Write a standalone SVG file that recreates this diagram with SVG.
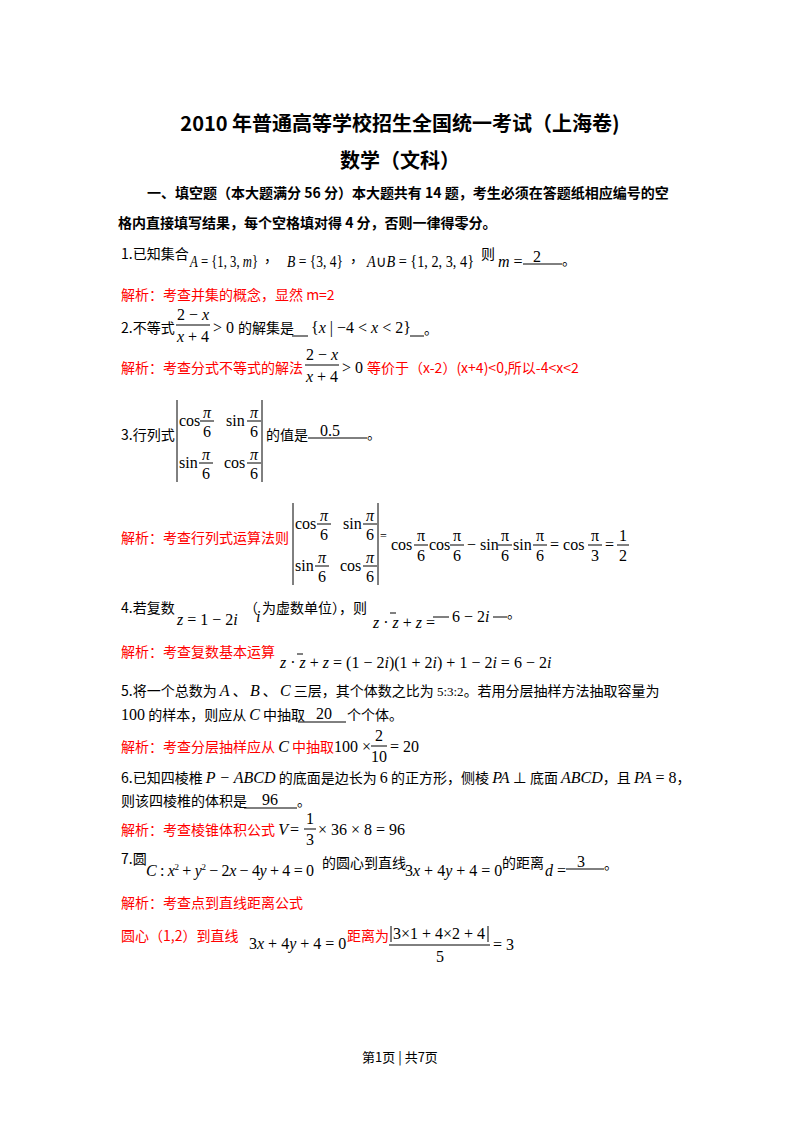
<svg xmlns="http://www.w3.org/2000/svg" width="800" height="1132" viewBox="0 0 800 1132">
<style>
.t{font-family:"Liberation Serif","Noto Sans CJK SC",serif;font-size:14px;fill:#000}
.c{font-family:"Noto Sans CJK SC",sans-serif;font-size:14px;fill:#000}
.r{fill:#f00}
.m{font-family:"Liberation Serif",serif;font-size:16px;fill:#000}
.i{font-style:italic}
.b{font-weight:bold}
line{stroke:#000;stroke-width:1}
</style>
<rect width="800" height="1132" fill="#fff"/>
<text x="400" y="131" text-anchor="middle" class="c b" style="font-size:20px">2010 年普通高等学校招生全国统一考试（上海卷)</text>
<text x="400" y="168" text-anchor="middle" class="c b" style="font-size:20px">数学（文科）</text>
<text x="147" y="198" class="c b">一、填空题（本大题满分 56 分）本大题共有 14 题，考生必须在答题纸相应编号的空</text>
<text x="118" y="228" class="c b">格内直接填写结果，每个空格填对得 4 分，否则一律得零分。</text>

<text x="121" y="259" class="c">1.已知集合</text>
<text x="190" y="267" class="m" textLength="68" lengthAdjust="spacingAndGlyphs"><tspan class="i">A</tspan> = {1, 3, <tspan class="i">m</tspan>}</text>
<text x="264" y="262" class="c">，</text>
<text x="287" y="267" class="m" textLength="56" lengthAdjust="spacingAndGlyphs"><tspan class="i">B</tspan> = {3, 4}</text>
<text x="350" y="262" class="c">，</text>
<text x="367" y="267" class="m" textLength="107" lengthAdjust="spacingAndGlyphs"><tspan class="i">A</tspan>∪<tspan class="i">B</tspan> = {1, 2, 3, 4}</text>
<text x="481" y="259" class="c">则</text>
<text x="498" y="267" class="m"><tspan class="i">m</tspan> =</text>
<line x1="523" y1="264" x2="562" y2="264"/>
<text x="533" y="262" class="m">2</text>
<text x="562" y="265" class="c">。</text>

<text x="121" y="300" class="c r">解析：考查并集的概念，显然 m=2</text>

<text x="121" y="333" class="c">2.不等式</text>
<text x="193" y="320" class="m" text-anchor="middle">2 − <tspan class="i">x</tspan></text>
<line x1="176" y1="325" x2="210" y2="325"/>
<text x="193" y="342" class="m" text-anchor="middle"><tspan class="i">x</tspan> + 4</text>
<text x="213" y="333" class="m">&gt; 0</text>
<text x="238" y="333" class="c">的解集是</text>
<line x1="292" y1="336" x2="308" y2="336"/>
<text x="311" y="333" class="m">{<tspan class="i">x</tspan> | −4 &lt; <tspan class="i">x</tspan> &lt; 2}</text>
<line x1="410" y1="336" x2="424" y2="336"/>
<text x="424" y="334" class="c">。</text>

<text x="121" y="373" class="c r">解析：考查分式不等式的解法</text>
<text x="322" y="360" class="m" text-anchor="middle">2 − <tspan class="i">x</tspan></text>
<line x1="305" y1="365" x2="339" y2="365"/>
<text x="322" y="382" class="m" text-anchor="middle"><tspan class="i">x</tspan> + 4</text>
<text x="342" y="373" class="m">&gt; 0</text>
<text x="367" y="373" class="c r">等价于（x-2）(x+4)&lt;0,所以-4&lt;x&lt;2</text>

<text x="121" y="440" class="c">3.行列式</text>
<line x1="177" y1="400" x2="177" y2="482"/>
<line x1="262" y1="400" x2="262" y2="482"/>
<text x="179" y="426" class="m">cos</text>
<text x="207" y="418" class="m i" text-anchor="middle">π</text><line x1="200" y1="421" x2="214" y2="421"/><text x="207" y="437" class="m" text-anchor="middle">6</text>
<text x="226" y="426" class="m">sin</text>
<text x="254" y="418" class="m i" text-anchor="middle">π</text><line x1="247" y1="421" x2="261" y2="421"/><text x="254" y="437" class="m" text-anchor="middle">6</text>
<text x="179" y="468" class="m">sin</text>
<text x="206" y="460" class="m i" text-anchor="middle">π</text><line x1="199" y1="463" x2="213" y2="463"/><text x="206" y="479" class="m" text-anchor="middle">6</text>
<text x="224" y="468" class="m">cos</text>
<text x="254" y="460" class="m i" text-anchor="middle">π</text><line x1="247" y1="463" x2="261" y2="463"/><text x="254" y="479" class="m" text-anchor="middle">6</text>
<text x="266" y="440" class="c">的值是</text>
<line x1="308" y1="438" x2="367" y2="438"/>
<text x="320" y="436" class="m">0.5</text>
<text x="367" y="439" class="c">。</text>

<text x="121" y="543" class="c r">解析：考查行列式运算法则</text>
<line x1="293" y1="503" x2="293" y2="585"/>
<line x1="378" y1="503" x2="378" y2="585"/>
<text x="295" y="529" class="m">cos</text>
<text x="324" y="521" class="m i" text-anchor="middle">π</text><line x1="317" y1="524" x2="331" y2="524"/><text x="324" y="540" class="m" text-anchor="middle">6</text>
<text x="343" y="529" class="m">sin</text>
<text x="370" y="521" class="m i" text-anchor="middle">π</text><line x1="363" y1="524" x2="377" y2="524"/><text x="370" y="540" class="m" text-anchor="middle">6</text>
<text x="295" y="571" class="m">sin</text>
<text x="322" y="563" class="m i" text-anchor="middle">π</text><line x1="315" y1="566" x2="329" y2="566"/><text x="322" y="582" class="m" text-anchor="middle">6</text>
<text x="340" y="571" class="m">cos</text>
<text x="370" y="563" class="m i" text-anchor="middle">π</text><line x1="363" y1="566" x2="377" y2="566"/><text x="370" y="582" class="m" text-anchor="middle">6</text>
<text x="380" y="540" class="m" style="font-size:12px">=</text>
<text x="391" y="550" class="m">cos</text>
<text x="421" y="541" class="m" text-anchor="middle">π</text><line x1="414" y1="545" x2="428" y2="545"/><text x="421" y="561" class="m" text-anchor="middle">6</text>
<text x="429" y="550" class="m">cos</text>
<text x="457" y="541" class="m" text-anchor="middle">π</text><line x1="450" y1="545" x2="464" y2="545"/><text x="457" y="561" class="m" text-anchor="middle">6</text>
<text x="467" y="550" class="m">− sin</text>
<text x="505" y="541" class="m" text-anchor="middle">π</text><line x1="498" y1="545" x2="512" y2="545"/><text x="505" y="561" class="m" text-anchor="middle">6</text>
<text x="513" y="550" class="m">sin</text>
<text x="540" y="541" class="m" text-anchor="middle">π</text><line x1="533" y1="545" x2="547" y2="545"/><text x="540" y="561" class="m" text-anchor="middle">6</text>
<text x="550" y="550" class="m">= cos</text>
<text x="595" y="541" class="m" text-anchor="middle">π</text><line x1="588" y1="545" x2="602" y2="545"/><text x="595" y="561" class="m" text-anchor="middle">3</text>
<text x="605" y="550" class="m">=</text>
<text x="623" y="541" class="m" text-anchor="middle">1</text><line x1="617" y1="545" x2="629" y2="545"/><text x="623" y="561" class="m" text-anchor="middle">2</text>

<text x="121" y="613" class="c">4.若复数</text>
<text x="177" y="625" class="m"><tspan class="i">z</tspan> = 1 − 2<tspan class="i">i</tspan></text>
<text x="244" y="613" class="c">（</text>
<text x="256" y="622" class="m i">i</text>
<text x="262" y="613" class="c">为虚数单位），则</text>
<text x="373" y="628" class="m"><tspan class="i">z</tspan> · <tspan class="i">z</tspan> + <tspan class="i">z</tspan> =</text>
<line x1="390" y1="613" x2="396" y2="613"/>
<line x1="433" y1="617" x2="449" y2="617"/>
<text x="452" y="622" class="m">6 − 2<tspan class="i">i</tspan></text>
<line x1="493" y1="617" x2="507" y2="617"/>
<text x="507" y="618" class="c">。</text>

<text x="121" y="657" class="c r">解析：考查复数基本运算</text>
<text x="280" y="668" class="m"><tspan class="i">z</tspan> · <tspan class="i">z</tspan> + <tspan class="i">z</tspan> = (1 − 2<tspan class="i">i</tspan>)(1 + 2<tspan class="i">i</tspan>) + 1 − 2<tspan class="i">i</tspan> = 6 − 2<tspan class="i">i</tspan></text>
<line x1="297" y1="654" x2="303" y2="654"/>

<text x="121" y="696" class="c">5.将一个总数为 <tspan class="m i">A</tspan> 、 <tspan class="m i">B</tspan> 、 <tspan class="m i">C</tspan> 三层，其个体数之比为 <tspan class="m" style="font-size:13px">5:3:2</tspan>。若用分层抽样方法抽取容量为</text>
<text x="121" y="720" class="c"><tspan class="m">100</tspan> 的样本，则应从 <tspan class="m i">C</tspan> 中抽取</text>
<line x1="298" y1="722" x2="346" y2="722"/>
<text x="316" y="719" class="m">20</text>
<text x="347" y="720" class="c">个个体。</text>

<text x="121" y="752" class="c r">解析：考查分层抽样应从 <tspan class="m i" style="font-size:16px">C</tspan> 中抽取</text>
<text x="334" y="752" class="m">100 ×</text>
<text x="379" y="741" class="m" text-anchor="middle">2</text><line x1="371" y1="746" x2="387" y2="746"/><text x="379" y="762" class="m" text-anchor="middle">10</text>
<text x="390" y="752" class="m">= 20</text>

<text x="121" y="783" class="c">6.已知四棱椎 <tspan class="m i">P − ABCD</tspan> 的底面是边长为 <tspan class="m">6</tspan> 的正方形，侧棱 <tspan class="m i">PA</tspan> ⊥ 底面 <tspan class="m i">ABCD</tspan>，且 <tspan class="m i">PA</tspan><tspan class="m"> = 8</tspan>，</text>
<text x="121" y="806" class="c">则该四棱椎的体积是</text>
<line x1="244" y1="808" x2="297" y2="808"/>
<text x="262" y="805" class="m">96</text>
<text x="297" y="806" class="c">。</text>

<text x="121" y="835" class="c r">解析：考查棱锥体积公式 <tspan class="m i" style="font-size:16px">V</tspan></text>
<text x="290" y="835" class="m">=</text>
<text x="310" y="824" class="m" text-anchor="middle">1</text><line x1="304" y1="829" x2="316" y2="829"/><text x="310" y="845" class="m" text-anchor="middle">3</text>
<text x="318" y="835" class="m">× 36 × 8 = 96</text>

<text x="121" y="864" class="c">7.圆</text>
<text x="146" y="876" class="m" textLength="168" lengthAdjust="spacing"><tspan class="i">C</tspan> : <tspan class="i">x</tspan><tspan dy="-6" style="font-size:9px">2</tspan><tspan dy="6"> + </tspan><tspan class="i">y</tspan><tspan dy="-6" style="font-size:9px">2</tspan><tspan dy="6"> − 2</tspan><tspan class="i">x</tspan> − 4<tspan class="i">y</tspan> + 4 = 0</text>
<text x="322" y="868" class="c">的圆心到直线</text>
<text x="405" y="876" class="m">3<tspan class="i">x</tspan> + 4<tspan class="i">y</tspan> + 4 = 0</text>
<text x="502" y="868" class="c">的距离</text>
<text x="545" y="876" class="m"><tspan class="i">d</tspan> =</text>
<line x1="566" y1="869" x2="604" y2="869"/>
<text x="577" y="867" class="m">3</text>
<text x="604" y="869" class="c">。</text>

<text x="121" y="908" class="c r">解析：考查点到直线距离公式</text>

<text x="121" y="941" class="c r">圆心（1,2）到直线</text>
<text x="249" y="949" class="m">3<tspan class="i">x</tspan> + 4<tspan class="i">y</tspan> + 4 = 0</text>
<text x="347" y="941" class="c r">距离为</text>
<line x1="391" y1="926" x2="391" y2="942"/>
<text x="393" y="939" class="m">3×1 + 4×2 + 4</text>
<line x1="488" y1="926" x2="488" y2="942"/>
<line x1="389" y1="945" x2="490" y2="945"/>
<text x="440" y="962" class="m" text-anchor="middle">5</text>
<text x="493" y="950" class="m">= 3</text>

<text x="400" y="1062" text-anchor="middle" class="c" style="font-size:13px">第1页 | 共7页</text>
</svg>
